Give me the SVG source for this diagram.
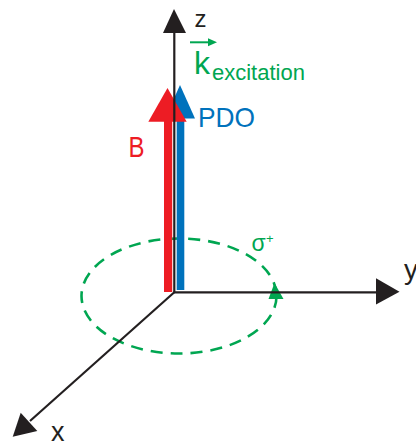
<svg xmlns="http://www.w3.org/2000/svg" width="416" height="443" viewBox="0 0 416 443">
<style>
.ax{stroke:#231f20;stroke-width:2.2;fill:none}
.hd{fill:#231f20}
.t{font-family:"Liberation Sans",Arial,sans-serif}
.g{fill:#00a651}
</style>
<rect width="416" height="443" fill="#fff"/>
<g id="polarization">
<ellipse cx="179" cy="296" rx="97.5" ry="57.5" fill="none" stroke="#00a651" stroke-width="2.6" stroke-dasharray="12 8"/>
<polygon points="274.5,283 268.5,299 283.5,299" fill="#00a651"/>
<text class="t g" x="251.5" y="250.5" font-size="23">σ</text>
<text class="t g" x="266" y="243" font-size="13">+</text>
</g>
<g id="PDO">
<rect x="176.7" y="116" width="7.6" height="174" fill="#0072bc"/>
<polygon points="180,85 165,118.5 195,118.5" fill="#0072bc"/>
<text class="t" x="198" y="126.7" font-size="28" fill="#0072bc" textLength="57" lengthAdjust="spacingAndGlyphs">PDO</text>
</g>
<g id="B">
<rect x="164" y="119" width="8.2" height="173" fill="#ed1c24"/>
<polygon points="167.5,88 148.3,121.7 186.7,121.7" fill="#ed1c24"/>
<text class="t" x="128.5" y="157.3" font-size="29" fill="#ed1c24" textLength="16" lengthAdjust="spacingAndGlyphs">B</text>
</g>
<g id="connectors">
<line class="ax" x1="174.3" y1="292" x2="174.3" y2="30"/>
<polygon class="hd" points="174,9 163,33 186,33"/>
<line class="ax" x1="173.5" y1="292.3" x2="378" y2="292.3"/>
<polygon class="hd" points="399.5,291.7 376,278.3 376,304.5"/>
<line class="ax" x1="174.3" y1="292.3" x2="30" y2="421"/>
<polygon class="hd" points="12.7,436.7 20.7,412.7 37.3,431"/>
<line x1="190" y1="42.3" x2="209" y2="42.3" stroke="#00a651" stroke-width="2"/>
<polygon points="217,42.3 208,38.3 208,46.3" fill="#00a651"/>
</g>
<g id="z"><text class="t" x="194.5" y="27" font-size="24" fill="#231f20">z</text></g>
<g id="y"><text class="t" x="404" y="279" font-size="28" fill="#231f20">y</text></g>
<g id="x"><text class="t" x="51" y="441" font-size="27" fill="#231f20">x</text></g>
<g id="k"><text class="t g" x="194" y="74" font-size="32">k<tspan x="212" y="80" font-size="22">excitation</tspan></text></g>
</svg>
